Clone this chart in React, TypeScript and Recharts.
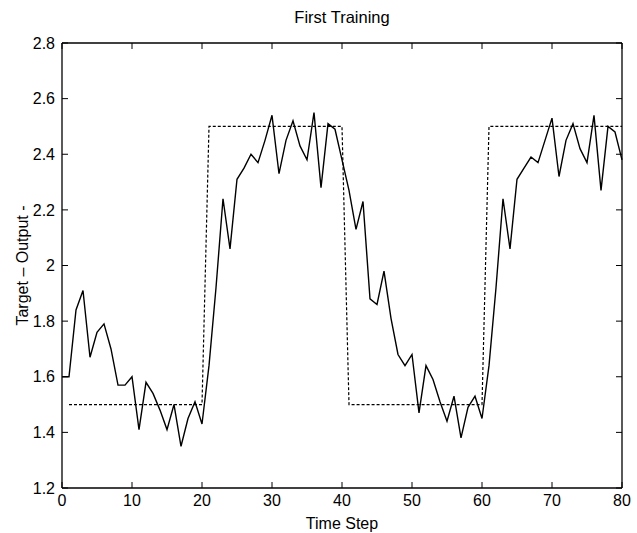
import React from "react";
import { LineChart, Line, XAxis, YAxis } from "recharts";

// values
const timeSteps = Array.from({ length: 81 }, (_, i) => i);
const outputValues = [
  1.6, 1.6, 1.84, 1.91, 1.67, 1.76, 1.79, 1.7, 1.57, 1.57,
  1.6, 1.41, 1.58, 1.54, 1.48, 1.41, 1.5, 1.35, 1.45, 1.51,
  1.43, 1.64, 1.92, 2.24, 2.06, 2.31, 2.35, 2.4, 2.37, 2.45,
  2.54, 2.33, 2.45, 2.52, 2.43, 2.38, 2.55, 2.28, 2.51, 2.49,
  2.38, 2.27, 2.13, 2.23, 1.88, 1.86, 1.98, 1.81, 1.68, 1.64,
  1.68, 1.47, 1.64, 1.59, 1.51, 1.44, 1.53, 1.38, 1.49, 1.53,
  1.45, 1.64, 1.92, 2.24, 2.06, 2.31, 2.35, 2.39, 2.37, 2.45,
  2.53, 2.32, 2.45, 2.51, 2.42, 2.37, 2.54, 2.27, 2.5, 2.48,
  2.38,
];
// target is a square wave, starting at step 1
const targetValues: (number | null)[] = [
  null,
  1.5, 1.5, 1.5, 1.5, 1.5, 1.5, 1.5, 1.5, 1.5, 1.5,
  1.5, 1.5, 1.5, 1.5, 1.5, 1.5, 1.5, 1.5, 1.5, 1.5,
  2.5, 2.5, 2.5, 2.5, 2.5, 2.5, 2.5, 2.5, 2.5, 2.5,
  2.5, 2.5, 2.5, 2.5, 2.5, 2.5, 2.5, 2.5, 2.5, 2.5,
  1.5, 1.5, 1.5, 1.5, 1.5, 1.5, 1.5, 1.5, 1.5, 1.5,
  1.5, 1.5, 1.5, 1.5, 1.5, 1.5, 1.5, 1.5, 1.5, 1.5,
  2.5, 2.5, 2.5, 2.5, 2.5, 2.5, 2.5, 2.5, 2.5, 2.5,
  2.5, 2.5, 2.5, 2.5, 2.5, 2.5, 2.5, 2.5, 2.5, 2.5,
];
const xTicks = [0, 10, 20, 30, 40, 50, 60, 70, 80];
const yTicks = [1.2, 1.4, 1.6, 1.8, 2, 2.2, 2.4, 2.6, 2.8];

const data = timeSteps.map((t, i) => ({
  t,
  output: outputValues[i],
  target: targetValues[i],
}));

const font = "'Liberation Sans', Arial, sans-serif";
const axisLine = { stroke: "#000", strokeWidth: 1.3 };
const TICK_LEN = 6;
const X_MARGIN = 7;
const Y_MARGIN = 7;

// matlab style: tick marks point into the plot box
const BottomTick = (props: any) => {
  const { x, y, payload } = props;
  const axisY = y - X_MARGIN;
  return (
    <g>
      <line x1={x} x2={x} y1={axisY} y2={axisY - TICK_LEN} stroke="#000" />
      <text x={x} y={y} dy="0.71em" textAnchor="middle" fill="#000" fontSize={16} fontFamily={font}>
        {payload.value}
      </text>
    </g>
  );
};

const LeftTick = (props: any) => {
  const { x, y, payload } = props;
  const axisX = x + Y_MARGIN;
  return (
    <g>
      <line x1={axisX} x2={axisX + TICK_LEN} y1={y} y2={y} stroke="#000" />
      <text x={x} y={y} dy="0.355em" textAnchor="end" fill="#000" fontSize={16} fontFamily={font}>
        {String(payload.value)}
      </text>
    </g>
  );
};

const TopTick = (props: any) => {
  const { x, y } = props;
  return <line x1={x} x2={x} y1={y} y2={y + TICK_LEN} stroke="#000" />;
};

const RightTick = (props: any) => {
  const { x, y } = props;
  return <line x1={x} x2={x - TICK_LEN} y1={y} y2={y} stroke="#000" />;
};

export default function App() {
  return (
    <div style={{ position: "absolute", left: 0, top: 0, width: 637, height: 533, background: "#fff" }}>
      <div
        style={{
          position: "absolute",
          left: 62,
          width: 560,
          top: 8,
          textAlign: "center",
          fontFamily: font,
          fontSize: 16.5,
          color: "#000",
        }}
      >
        First Training
      </div>
      <LineChart width={637} height={533} data={data} margin={{ top: 42, right: 14, bottom: 0, left: 0 }}>
        <XAxis
          dataKey="t"
          type="number"
          domain={[0, 80]}
          ticks={xTicks}
          tickSize={0}
          tickMargin={X_MARGIN}
          tick={<BottomTick />}
          axisLine={axisLine}
          tickLine={false}
          height={45}
          label={{
            value: "Time Step",
            position: "insideBottom",
            offset: 4,
            style: { fill: "#000", fontSize: 16, fontFamily: font },
          }}
        />
        <XAxis
          xAxisId="top"
          orientation="top"
          dataKey="t"
          type="number"
          domain={[0, 80]}
          ticks={xTicks}
          tickSize={0}
          tickMargin={0}
          tick={<TopTick />}
          axisLine={axisLine}
          tickLine={false}
          height={1}
        />
        <YAxis
          type="number"
          domain={[1.2, 2.8]}
          ticks={yTicks}
          tickSize={0}
          tickMargin={Y_MARGIN}
          tick={<LeftTick />}
          axisLine={axisLine}
          tickLine={false}
          width={62}
          label={{
            value: "Target \u2013 Output -",
            angle: -90,
            position: "insideLeft",
            offset: 22,
            style: { fill: "#000", fontSize: 16, fontFamily: font, textAnchor: "middle" },
          }}
        />
        <YAxis
          yAxisId="right"
          orientation="right"
          type="number"
          domain={[1.2, 2.8]}
          ticks={yTicks}
          tickSize={0}
          tickMargin={0}
          tick={<RightTick />}
          axisLine={axisLine}
          tickLine={false}
          width={1}
        />
        <Line
          xAxisId="top"
          yAxisId="right"
          dataKey="target"
          type="linear"
          stroke="#000"
          strokeWidth={1.2}
          strokeDasharray="3 2"
          dot={false}
          connectNulls={false}
          isAnimationActive={false}
        />
        <Line
          dataKey="output"
          type="linear"
          stroke="#000"
          strokeWidth={1.4}
          dot={false}
          isAnimationActive={false}
        />
      </LineChart>
    </div>
  );
}
